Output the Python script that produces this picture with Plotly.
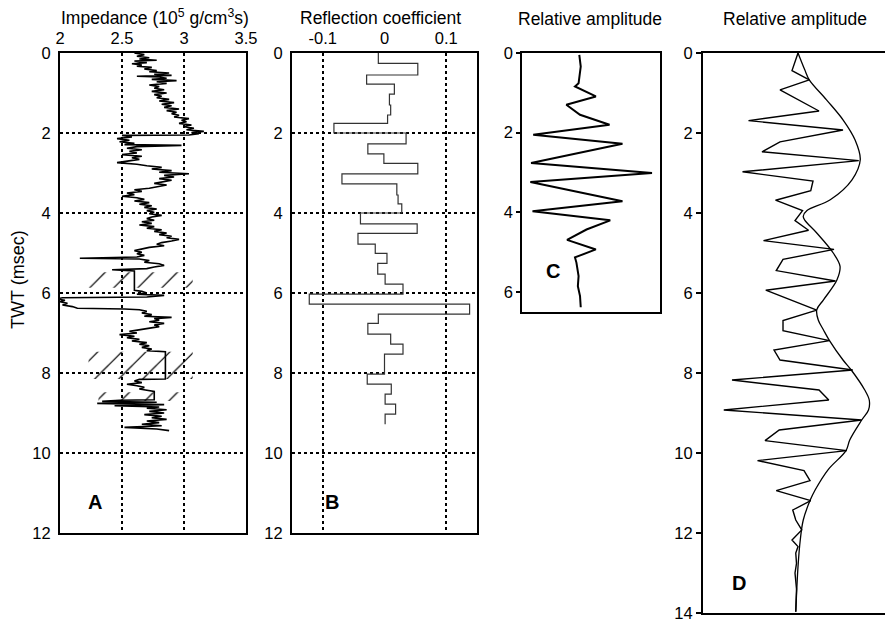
import plotly.graph_objects as go

W, H = 885, 619

# ---------------- Panel A: impedance log ----------------
imp_twt = [0.00, 0.04, 0.08, 0.12, 0.15, 0.18, 0.20, 0.24, 0.27, 0.30, 0.33, 0.36, 0.40, 0.44, 0.47,
           0.50, 0.53, 0.56, 0.58, 0.60, 0.63, 0.66, 0.69, 0.72, 0.76, 0.80, 0.84, 0.88, 0.92, 0.96,
           1.00, 1.04, 1.08, 1.12, 1.16, 1.20, 1.24, 1.28, 1.32, 1.36, 1.40, 1.44, 1.48, 1.52, 1.56,
           1.60, 1.64, 1.68, 1.72, 1.76, 1.80, 1.84, 1.88, 1.92, 1.96, 1.99, 2.02, 2.05, 2.06, 2.10,
           2.14, 2.18, 2.22, 2.26, 2.29, 2.31, 2.34, 2.38, 2.42, 2.46, 2.50, 2.54, 2.58, 2.62, 2.66,
           2.70, 2.74, 2.78, 2.82, 2.86, 2.90, 2.94, 2.98, 3.02, 3.06, 3.10, 3.14, 3.18, 3.22, 3.26,
           3.30, 3.34, 3.38, 3.42, 3.46, 3.50, 3.54, 3.58, 3.62, 3.66, 3.70, 3.74, 3.78, 3.82, 3.86,
           3.90, 3.94, 3.98, 4.02, 4.06, 4.10, 4.14, 4.18, 4.22, 4.26, 4.30, 4.34, 4.38, 4.42, 4.46,
           4.50, 4.54, 4.58, 4.62, 4.66, 4.70, 4.74, 4.78, 4.82, 4.86, 4.90, 4.94, 4.98, 5.02, 5.06,
           5.10, 5.13, 5.15, 5.19, 5.23, 5.27, 5.31, 5.35, 5.39, 5.42, 5.45, 5.93, 5.96, 6.00, 6.03,
           6.06, 6.10, 6.12, 6.15, 6.18, 6.22, 6.26, 6.30, 6.34, 6.38, 6.40, 6.42, 6.46, 6.50, 6.54,
           6.58, 6.61, 6.64, 6.68, 6.72, 6.76, 6.80, 6.84, 6.88, 6.92, 6.96, 7.00, 7.04, 7.08, 7.12,
           7.16, 7.20, 7.24, 7.28, 7.32, 7.36, 7.40, 7.44, 7.47, 8.15, 8.16, 8.20, 8.24, 8.28, 8.32,
           8.36, 8.40, 8.44, 8.46, 8.67, 8.68, 8.71, 8.73, 8.76, 8.79, 8.82, 8.85, 8.88, 8.92, 8.96,
           9.00, 9.04, 9.08, 9.12, 9.16, 9.20, 9.24, 9.28, 9.32, 9.36, 9.40, 9.44]
imp_value = [2.60, 2.68, 2.62, 2.72, 2.64, 2.78, 2.60, 2.70, 2.58, 2.66, 2.62, 2.74, 2.68, 2.78, 2.72,
             2.88, 2.76, 2.90, 2.62, 2.80, 2.86, 2.74, 2.94, 2.78, 2.86, 2.72, 2.80, 2.76, 2.84, 2.74,
             2.86, 2.76, 2.82, 2.78, 2.88, 2.80, 2.92, 2.82, 2.90, 2.84, 2.96, 2.86, 2.94, 2.90, 2.96,
             2.92, 3.04, 2.98, 3.02, 2.96, 3.06, 3.00, 3.08, 3.02, 3.16, 3.06, 3.12, 3.04, 2.50, 2.58,
             2.46, 2.56, 2.48, 2.60, 2.52, 2.98, 2.62, 2.54, 2.66, 2.56, 2.62, 2.50, 2.66, 2.58, 2.64,
             2.56, 2.46, 2.62, 2.70, 2.82, 2.74, 2.90, 2.80, 3.04, 2.84, 2.92, 2.80, 2.90, 2.82, 2.76,
             2.86, 2.78, 2.72, 2.60, 2.66, 2.54, 2.60, 2.50, 2.62, 2.68, 2.60, 2.72, 2.64, 2.74, 2.68,
             2.78, 2.70, 2.76, 2.72, 2.82, 2.74, 2.70, 2.76, 2.66, 2.74, 2.64, 2.76, 2.70, 2.82, 2.76,
             2.86, 2.80, 2.90, 2.86, 2.96, 2.90, 2.82, 2.78, 2.84, 2.72, 2.66, 2.60, 2.66, 2.62, 2.68,
             2.62, 2.16, 2.64, 2.72, 2.68, 2.80, 2.84, 2.76, 2.70, 2.42, 2.60, 2.60, 2.66, 2.70, 2.62,
             2.84, 2.70, 2.02, 1.97, 2.04, 2.00, 2.06, 2.02, 2.10, 2.14, 2.52, 2.64, 2.70, 2.66, 2.74,
             2.68, 2.90, 2.76, 2.80, 2.72, 2.84, 2.76, 2.80, 2.72, 2.62, 2.56, 2.62, 2.48, 2.60, 2.54,
             2.64, 2.58, 2.70, 2.64, 2.72, 2.66, 2.74, 2.70, 2.85, 2.85, 2.64, 2.60, 2.66, 2.54, 2.62,
             2.68, 2.64, 2.74, 2.76, 2.76, 2.48, 2.34, 2.78, 2.30, 2.84, 2.44, 2.80, 2.70, 2.86, 2.72,
             2.84, 2.68, 2.82, 2.74, 2.86, 2.70, 2.80, 2.66, 2.82, 2.52, 2.78, 2.88]

# hatched (edited) intervals
hatch_top = [5.48, 7.47, 8.48]
hatch_bottom = [5.87, 8.15, 8.70]
hatch_left = [2.23, 2.23, 2.31]
hatch_right = [3.07, 3.07, 2.99]

# ---------------- Panel B: reflection coefficient ----------------
rc_top = [0.00, 0.26, 0.55, 0.78, 1.03, 1.30, 1.55, 1.76, 2.00, 2.27, 2.52, 2.76, 3.02, 3.27, 3.55,
          3.77, 4.00, 4.27, 4.51, 4.78, 5.01, 5.26, 5.53, 5.78, 6.03, 6.28, 6.53, 6.76, 7.03, 7.28,
          7.53, 8.03, 8.28, 8.53, 8.78, 9.03]
rc_value = [-0.010, 0.054, -0.029, 0.016, 0.008, 0.010, 0.005, -0.082, 0.035, -0.027, -0.001, 0.054,
            -0.069, 0.020, 0.022, 0.028, -0.039, 0.053, -0.043, -0.015, 0.004, -0.011, 0.001, 0.030,
            -0.122, 0.138, -0.010, -0.027, 0.010, 0.030, 0.000, -0.028, 0.011, 0.001, 0.018, 0.001]
rc_end = 9.28

# ---------------- Panel C: synthetic trace ----------------
c_twt = [0.05, 0.34, 0.76, 0.84, 1.09, 1.30, 1.55, 1.80, 2.05, 2.28, 2.76, 3.01, 3.24, 3.72, 3.97,
         4.20, 4.43, 4.69, 4.93, 5.13, 5.26, 5.60, 5.85, 6.10, 6.38]
c_amp = [-0.01, 0.01, -0.02, -0.07, 0.22, -0.19, 0.00, 0.41, -0.65, 0.59, -0.68, 1.00, -0.69, 0.59,
         -0.66, 0.42, 0.09, -0.18, 0.22, -0.07, -0.05, -0.02, -0.03, 0.00, 0.01]

# ---------------- Panel D: trace and envelope ----------------
d_twt = [0.00, 0.44, 0.67, 0.92, 1.45, 1.69, 1.925, 2.22, 2.47, 2.69, 2.97, 3.20, 3.44, 3.68, 3.94,
         4.19, 4.43, 4.69, 4.91, 5.16, 5.44, 5.70, 5.93, 6.43, 6.69, 6.94, 7.19, 7.425, 7.675, 7.925,
         8.175, 8.425, 8.675, 8.925, 9.175, 9.425, 9.69, 9.94, 10.19, 10.44, 10.69, 10.94, 11.19,
         11.425, 11.675, 11.925, 12.175, 12.34, 12.50, 12.76, 13.00, 13.40, 13.97]
d_amp = [0.00, -0.08, 0.15, -0.24, 0.28, -0.66, 0.60, -0.24, -0.48, 0.81, -0.74, 0.20, 0.17, -0.30,
         0.06, -0.04, 0.14, -0.46, 0.48, -0.20, -0.29, 0.50, -0.43, 0.25, -0.20, -0.20, 0.42, -0.32,
         -0.24, 0.73, -0.88, 0.28, 0.41, -0.99, 0.85, -0.25, -0.44, 0.65, -0.54, 0.08, 0.16, -0.29,
         0.17, -0.07, -0.03, 0.05, -0.08, 0.00, -0.03, -0.02, -0.04, -0.02, -0.03]
env_twt = [0.00, 0.42, 0.67, 1.17, 1.67, 2.17, 2.67, 3.17, 3.67, 3.94, 4.08, 4.18, 4.50, 5.00, 5.33,
           5.67, 6.17, 6.42, 6.675, 6.925, 7.19, 7.675, 7.925, 8.425, 8.675, 8.925, 9.175, 9.675,
           9.94, 10.42, 10.92, 11.19, 11.675, 12.175, 12.84, 13.97]
env_amp = [0.00, 0.09, 0.15, 0.38, 0.60, 0.76, 0.83, 0.72, 0.43, 0.12, 0.07, 0.09, 0.25, 0.47, 0.56,
           0.52, 0.34, 0.25, 0.27, 0.34, 0.42, 0.60, 0.71, 0.89, 0.95, 0.94, 0.85, 0.69, 0.64, 0.40,
           0.23, 0.16, 0.07, 0.03, 0.00, -0.03]

FONT = "Liberation Sans, Arial, sans-serif"
fig = go.Figure()

# hatched bands (panel A)
for t0, t1, x0, x1 in zip(hatch_top, hatch_bottom, hatch_left, hatch_right):
    fig.add_trace(go.Scatter(
        x=[x0, x1, x1, x0, x0], y=[t0, t0, t1, t1, t0], xaxis="x", yaxis="y",
        mode="none", fill="toself", fillcolor="rgba(0,0,0,0)",
        fillpattern=dict(shape="/", size=17, solidity=0.07, fgcolor="black",
                         bgcolor="rgba(0,0,0,0)", fillmode="replace"),
        hoverinfo="skip", showlegend=False))

fig.add_trace(go.Scatter(x=imp_value, y=imp_twt, xaxis="x", yaxis="y", mode="lines",
                         line=dict(color="black", width=1.6), showlegend=False))

fig.add_trace(go.Scatter(x=rc_value + [rc_value[-1]], y=rc_top + [rc_end], xaxis="x2", yaxis="y2",
                         mode="lines", line=dict(color="#333", width=1.2, shape="vh"),
                         showlegend=False))
# invisible trace to carry the grid-only overlay axis of panel B
fig.add_trace(go.Scatter(x=[None], y=[None], xaxis="x5", yaxis="y2", mode="lines",
                         showlegend=False, hoverinfo="skip"))

fig.add_trace(go.Scatter(x=c_amp, y=c_twt, xaxis="x3", yaxis="y3", mode="lines",
                         line=dict(color="black", width=2), showlegend=False))

fig.add_trace(go.Scatter(x=d_amp, y=d_twt, xaxis="x4", yaxis="y4", mode="lines",
                         line=dict(color="black", width=1.4), showlegend=False))
fig.add_trace(go.Scatter(x=env_amp, y=env_twt, xaxis="x4", yaxis="y4", mode="lines",
                         line=dict(color="black", width=1.3, shape="spline"), showlegend=False))


def px(x):
    return x / W


def py(y):
    return 1 - y / H


tickfont = dict(family=FONT, size=16.5, color="black")
grid = dict(showgrid=True, gridcolor="black", gridwidth=1.5, griddash="dot")
twt_ticks = [0, 2, 4, 6, 8, 10, 12]
noauto = dict(automargin=False, ticklabeloverflow="allow")

fig.update_layout(
    template="none",
    width=W, height=H, margin=dict(l=0, r=0, t=0, b=0, autoexpand=False),
    paper_bgcolor="white", plot_bgcolor="white",
    font=dict(family=FONT, size=17, color="black"),
    xaxis=dict(domain=[px(60), px(246)], range=[2, 3.5], side="top", anchor="y",
               tickvals=[2, 2.5, 3, 3.5], ticktext=["2", "2.5", "3", "3.5"],
               ticks="", tickfont=tickfont,
               showline=True, mirror=True, linecolor="black", linewidth=2, zeroline=False,
               **grid, **noauto),
    yaxis=dict(domain=[py(533), py(53)], range=[12, 0], anchor="x",
               tickvals=twt_ticks, ticks="outside", ticklen=4, tickcolor="rgba(0,0,0,0)",
               tickfont=tickfont, showline=True, mirror=True, linecolor="black", linewidth=2,
               zeroline=False, **grid, **noauto),
    xaxis2=dict(domain=[px(292), px(477)], range=[-0.15, 0.15], side="top", anchor="y2",
                tickvals=[-0.1, 0, 0.1], ticktext=["-0.1", "0", "0.1"],
                ticks="", tickfont=tickfont,
                showline=True, mirror=True, linecolor="black", linewidth=2, zeroline=False,
                showgrid=False, **noauto),
    xaxis5=dict(overlaying="x2", range=[-0.15, 0.15], side="top", anchor="y2",
                tickvals=[-0.1, 0.1], showticklabels=False, ticks="", zeroline=False,
                showline=False, **grid, **noauto),
    yaxis2=dict(domain=[py(533), py(53)], range=[12, 0], anchor="x2",
                tickvals=twt_ticks, ticks="outside", ticklen=4, tickcolor="rgba(0,0,0,0)",
                tickfont=tickfont, showline=True, mirror=True, linecolor="black", linewidth=2,
                zeroline=False, **grid, **noauto),
    xaxis3=dict(domain=[px(522), px(660)], range=[-0.806, 1.111], anchor="y3",
                showticklabels=False, ticks="", showgrid=False, zeroline=False,
                showline=True, mirror=True, linecolor="black", linewidth=1.5, **noauto),
    yaxis3=dict(domain=[py(312), py(53)], range=[6.5, 0], anchor="x3",
                tickvals=[0, 2, 4, 6], ticks="outside", ticklen=4, tickwidth=1.5,
                tickcolor="black", tickfont=tickfont, showgrid=False, zeroline=False,
                showline=True, mirror=True, linecolor="black", linewidth=1.5, **noauto),
    xaxis4=dict(domain=[px(703), 1.0], range=[-1.267, 1.16], anchor="y4",
                showticklabels=False, ticks="", showgrid=False, zeroline=False,
                showline=True, mirror=True, linecolor="black", linewidth=2, **noauto),
    yaxis4=dict(domain=[py(613), py(53)], range=[14, 0], anchor="x4",
                tickvals=[0, 2, 4, 6, 8, 10, 12, 14], ticks="outside", ticklen=5, tickwidth=2,
                tickcolor="black", tickfont=tickfont, showgrid=False, zeroline=False,
                showline=True, mirror=False, linecolor="black", linewidth=2, **noauto),
)

titles = [
    ("Impedance (10<sup>5</sup> g/cm<sup>3</sup>s)", 155, 17),
    ("Reflection coefficient", 380, 18),
    ("Relative amplitude", 590, 19),
    ("Relative amplitude", 795, 19),
]
for text, x, y in titles:
    fig.add_annotation(text=text, x=px(x), y=py(y), xref="paper", yref="paper",
                       xanchor="center", yanchor="middle", showarrow=False,
                       font=dict(family=FONT, size=17.5, color="black"))

fig.add_annotation(text="TWT (msec)", x=px(18), y=py(280), xref="paper", yref="paper",
                   xanchor="center", yanchor="middle", showarrow=False, textangle=-90,
                   font=dict(family=FONT, size=18, color="black"))

panel_labels = [("A", 95, 502), ("B", 332, 502), ("C", 553, 271), ("D", 739, 583)]
for text, x, y in panel_labels:
    fig.add_annotation(text="<b>%s</b>" % text, x=px(x), y=py(y), xref="paper", yref="paper",
                       xanchor="center", yanchor="middle", showarrow=False,
                       font=dict(family=FONT, size=20, color="black"))

fig.write_html("out.html", config={"displayModeBar": False},
               post_script="document.body.style.margin='0px';document.body.style.padding='0px';")
